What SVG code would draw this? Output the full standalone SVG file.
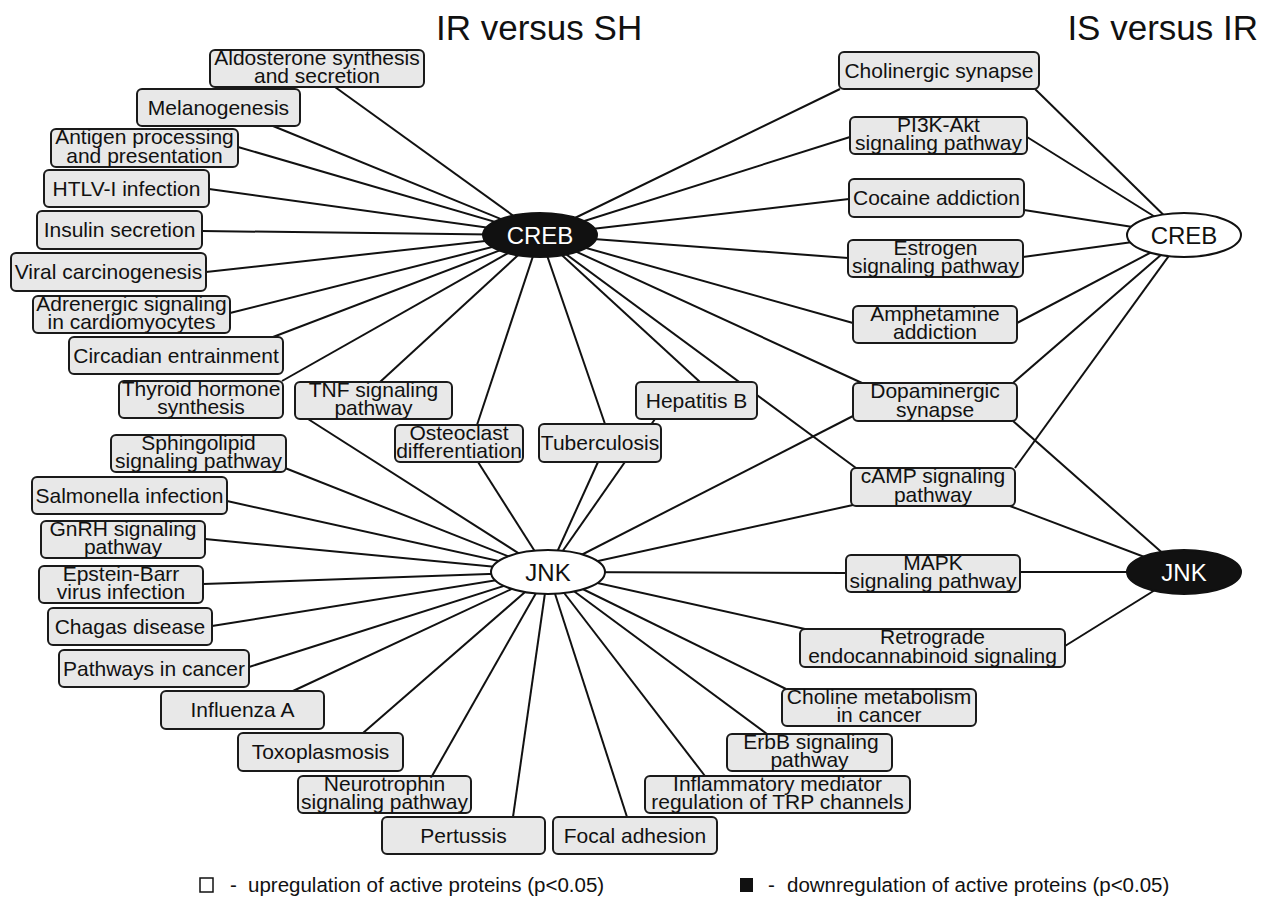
<svg xmlns="http://www.w3.org/2000/svg" width="1266" height="910" viewBox="0 0 1266 910">
<style>
.box rect{fill:#e8e8e8;stroke:#1a1a1a;stroke-width:2}
.box text{font-family:"Liberation Sans",Arial,sans-serif;font-size:21px;fill:#111;text-anchor:middle}
#edges line{stroke:#111;stroke-width:2}
.hub text{font-family:"Liberation Sans",Arial,sans-serif;font-size:24px;text-anchor:middle}
.up ellipse{fill:#fff;stroke:#111;stroke-width:2}
.up text{fill:#111}
.down ellipse{fill:#111;stroke:#111;stroke-width:2}
.down text{fill:#fff}
.title{font-family:"Liberation Sans",Arial,sans-serif;font-size:35px;fill:#111}
.legend{font-family:"Liberation Sans",Arial,sans-serif;font-size:20.5px;fill:#111}
</style>
<rect width="1266" height="910" fill="#fff"/>
<text class="title" x="436" y="40">IR versus SH</text>
<text class="title" x="1258" y="40" text-anchor="end">IS versus IR</text>
<g id="edges">
<line x1="540" y1="235" x2="335" y2="87"/>
<line x1="540" y1="235" x2="273" y2="126"/>
<line x1="540" y1="235" x2="238" y2="147"/>
<line x1="540" y1="235" x2="209" y2="189"/>
<line x1="540" y1="235" x2="202" y2="231"/>
<line x1="540" y1="235" x2="206" y2="272"/>
<line x1="540" y1="235" x2="230" y2="313"/>
<line x1="540" y1="235" x2="273" y2="337"/>
<line x1="540" y1="235" x2="282" y2="381"/>
<line x1="540" y1="235" x2="380" y2="382"/>
<line x1="540" y1="235" x2="477" y2="425"/>
<line x1="540" y1="235" x2="605" y2="424"/>
<line x1="540" y1="235" x2="700" y2="382"/>
<line x1="540" y1="235" x2="840" y2="89"/>
<line x1="540" y1="235" x2="850" y2="137"/>
<line x1="540" y1="235" x2="849" y2="199"/>
<line x1="540" y1="235" x2="848" y2="258"/>
<line x1="540" y1="235" x2="853" y2="323"/>
<line x1="540" y1="235" x2="862" y2="383"/>
<line x1="540" y1="235" x2="856" y2="468"/>
<line x1="1184" y1="235" x2="1035" y2="89"/>
<line x1="1184" y1="235" x2="1027" y2="137"/>
<line x1="1184" y1="235" x2="1024" y2="210"/>
<line x1="1184" y1="235" x2="1023" y2="257"/>
<line x1="1184" y1="235" x2="1017" y2="323"/>
<line x1="1184" y1="235" x2="1013" y2="383"/>
<line x1="1184" y1="235" x2="1015" y2="468"/>
<line x1="1184" y1="572" x2="1013" y2="421"/>
<line x1="1184" y1="572" x2="1010" y2="506"/>
<line x1="1184" y1="572" x2="1020" y2="572"/>
<line x1="1184" y1="572" x2="1065" y2="646"/>
<line x1="548" y1="572" x2="308" y2="419"/>
<line x1="548" y1="572" x2="478" y2="462"/>
<line x1="548" y1="572" x2="598" y2="462"/>
<line x1="548" y1="572" x2="655" y2="419"/>
<line x1="548" y1="572" x2="853" y2="416"/>
<line x1="548" y1="572" x2="853" y2="505"/>
<line x1="548" y1="572" x2="846" y2="573"/>
<line x1="548" y1="572" x2="805" y2="629"/>
<line x1="548" y1="572" x2="786" y2="689"/>
<line x1="548" y1="572" x2="767" y2="734"/>
<line x1="548" y1="572" x2="705" y2="776"/>
<line x1="548" y1="572" x2="627" y2="817"/>
<line x1="548" y1="572" x2="513" y2="817"/>
<line x1="548" y1="572" x2="432" y2="776"/>
<line x1="548" y1="572" x2="363" y2="733"/>
<line x1="548" y1="572" x2="293" y2="691"/>
<line x1="548" y1="572" x2="249" y2="667"/>
<line x1="548" y1="572" x2="212" y2="626"/>
<line x1="548" y1="572" x2="203" y2="584"/>
<line x1="548" y1="572" x2="205" y2="539"/>
<line x1="548" y1="572" x2="227" y2="501"/>
<line x1="548" y1="572" x2="285" y2="468"/>
</g>
<g id="creb-left" class="hub down"><ellipse cx="540" cy="235" rx="57" ry="22"/><text x="540" y="244">CREB</text></g>
<g id="jnk-left" class="hub up"><ellipse cx="548" cy="572" rx="57" ry="22"/><text x="548" y="581">JNK</text></g>
<g id="creb-right" class="hub up"><ellipse cx="1184" cy="235" rx="57" ry="22"/><text x="1184" y="244">CREB</text></g>
<g id="jnk-right" class="hub down"><ellipse cx="1184" cy="572" rx="57" ry="22"/><text x="1184" y="581">JNK</text></g>

<g id="aldosterone" class="box"><rect x="210" y="50" width="214" height="37" rx="5"/><text x="317" y="64.5">Aldosterone synthesis</text><text x="317" y="83">and secretion</text></g>
<g id="melanogenesis" class="box"><rect x="137" y="89" width="163" height="37" rx="5"/><text x="218.5" y="114.5">Melanogenesis</text></g>
<g id="antigen" class="box"><rect x="51" y="129" width="187" height="38" rx="5"/><text x="144.5" y="144">Antigen processing</text><text x="144.5" y="162.5">and presentation</text></g>
<g id="htlv" class="box"><rect x="44" y="170" width="165" height="37" rx="5"/><text x="126.5" y="195.5">HTLV-I infection</text></g>
<g id="insulin" class="box"><rect x="37" y="211" width="165" height="38" rx="5"/><text x="119.5" y="237">Insulin secretion</text></g>
<g id="viral" class="box"><rect x="11" y="253" width="195" height="38" rx="5"/><text x="108.5" y="279">Viral carcinogenesis</text></g>
<g id="adrenergic" class="box"><rect x="33" y="296" width="197" height="37" rx="5"/><text x="131.5" y="310.5">Adrenergic signaling</text><text x="131.5" y="329">in cardiomyocytes</text></g>
<g id="circadian" class="box"><rect x="69" y="337" width="214" height="37" rx="5"/><text x="176" y="362.5">Circadian entrainment</text></g>
<g id="thyroid" class="box"><rect x="119" y="381" width="164" height="37" rx="5"/><text x="201" y="395.5">Thyroid hormone</text><text x="201" y="414">synthesis</text></g>
<g id="tnf" class="box"><rect x="295" y="382" width="157" height="37" rx="5"/><text x="373.5" y="396.5">TNF signaling</text><text x="373.5" y="415">pathway</text></g>
<g id="osteoclast" class="box"><rect x="395" y="425" width="128" height="37" rx="5"/><text x="459" y="439.5">Osteoclast</text><text x="459" y="458">differentiation</text></g>
<g id="tuberculosis" class="box"><rect x="539" y="424" width="122" height="38" rx="5"/><text x="600" y="450">Tuberculosis</text></g>
<g id="hepatitis" class="box"><rect x="636" y="382" width="121" height="37" rx="5"/><text x="696.5" y="407.5">Hepatitis B</text></g>
<g id="sphingolipid" class="box"><rect x="111" y="435" width="175" height="37" rx="5"/><text x="198.5" y="449.5">Sphingolipid</text><text x="198.5" y="468">signaling pathway</text></g>
<g id="salmonella" class="box"><rect x="32" y="477" width="195" height="37" rx="5"/><text x="129.5" y="502.5">Salmonella infection</text></g>
<g id="gnrh" class="box"><rect x="41" y="521" width="164" height="37" rx="5"/><text x="123" y="535.5">GnRH signaling</text><text x="123" y="554">pathway</text></g>
<g id="epstein" class="box"><rect x="39" y="566" width="164" height="37" rx="5"/><text x="121" y="580.5">Epstein-Barr</text><text x="121" y="599">virus infection</text></g>
<g id="chagas" class="box"><rect x="48" y="608" width="164" height="37" rx="5"/><text x="130" y="633.5">Chagas disease</text></g>
<g id="pathways" class="box"><rect x="59" y="650" width="190" height="37" rx="5"/><text x="154" y="675.5">Pathways in cancer</text></g>
<g id="influenza" class="box"><rect x="161" y="691" width="163" height="38" rx="5"/><text x="242.5" y="717">Influenza A</text></g>
<g id="toxoplasmosis" class="box"><rect x="238" y="733" width="165" height="38" rx="5"/><text x="320.5" y="759">Toxoplasmosis</text></g>
<g id="neurotrophin" class="box"><rect x="298" y="776" width="173" height="37" rx="5"/><text x="384.5" y="790.5">Neurotrophin</text><text x="384.5" y="809">signaling pathway</text></g>
<g id="pertussis" class="box"><rect x="382" y="817" width="163" height="37" rx="5"/><text x="463.5" y="842.5">Pertussis</text></g>
<g id="focal" class="box"><rect x="553" y="817" width="164" height="37" rx="5"/><text x="635" y="842.5">Focal adhesion</text></g>
<g id="inflammatory" class="box"><rect x="645" y="776" width="265" height="37" rx="5"/><text x="777.5" y="790.5">Inflammatory mediator</text><text x="777.5" y="809">regulation of TRP channels</text></g>
<g id="erbb" class="box"><rect x="727" y="734" width="165" height="37" rx="5"/><text x="811" y="748.5">ErbB signaling</text><text x="809.5" y="767">pathway</text></g>
<g id="choline" class="box"><rect x="782" y="689" width="194" height="37" rx="5"/><text x="879" y="703.5">Choline metabolism</text><text x="879" y="722">in cancer</text></g>
<g id="cholinergic" class="box"><rect x="839" y="52" width="200" height="37" rx="5"/><text x="939" y="77.5">Cholinergic synapse</text></g>
<g id="pi3k" class="box"><rect x="850" y="117" width="177" height="37" rx="5"/><text x="938.5" y="131.5">PI3K-Akt</text><text x="938.5" y="150">signaling pathway</text></g>
<g id="cocaine" class="box"><rect x="849" y="179" width="175" height="38" rx="5"/><text x="936.5" y="205">Cocaine addiction</text></g>
<g id="estrogen" class="box"><rect x="848" y="240" width="175" height="37" rx="5"/><text x="935.5" y="254.5">Estrogen</text><text x="935.5" y="273">signaling pathway</text></g>
<g id="amphetamine" class="box"><rect x="853" y="306" width="164" height="37" rx="5"/><text x="935" y="320.5">Amphetamine</text><text x="935" y="339">addiction</text></g>
<g id="dopaminergic" class="box"><rect x="853" y="383" width="164" height="38" rx="5"/><text x="935" y="398">Dopaminergic</text><text x="935" y="416.5">synapse</text></g>
<g id="camp" class="box"><rect x="851" y="468" width="164" height="38" rx="5"/><text x="933" y="483">cAMP signaling</text><text x="933" y="501.5">pathway</text></g>
<g id="mapk" class="box"><rect x="846" y="555" width="174" height="37" rx="5"/><text x="933" y="569.5">MAPK</text><text x="933" y="588">signaling pathway</text></g>
<g id="retrograde" class="box"><rect x="800" y="629" width="265" height="38" rx="5"/><text x="932.5" y="644">Retrograde</text><text x="932.5" y="662.5">endocannabinoid signaling</text></g>

<g id="legend">
<rect x="200" y="878" width="13" height="14" fill="#fff" stroke="#111" stroke-width="1.5"/>
<text class="legend" x="230" y="892">-</text>
<text class="legend" x="248" y="892">upregulation of active proteins (p&lt;0.05)</text>
<rect x="740" y="878" width="13" height="14" fill="#111"/>
<text class="legend" x="768" y="892">-</text>
<text class="legend" x="787" y="892">downregulation of active proteins (p&lt;0.05)</text>
</g>
</svg>
